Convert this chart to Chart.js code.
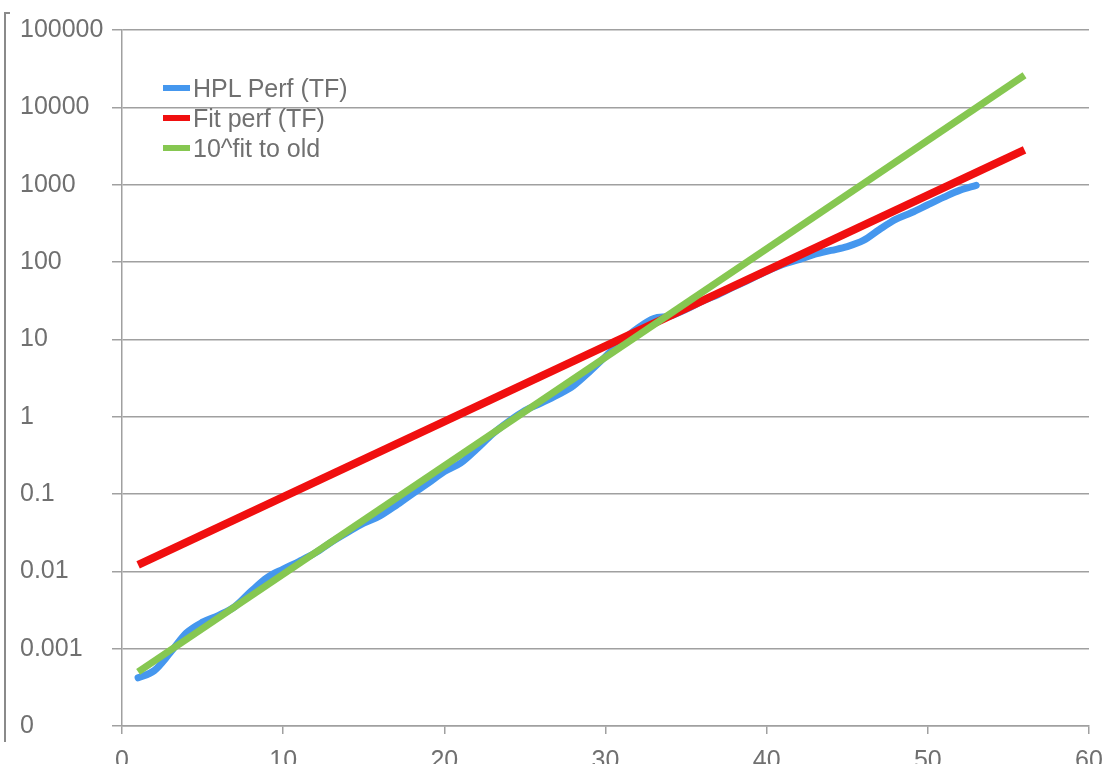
<!DOCTYPE html>
<html>
<head>
<meta charset="utf-8">
<title>HPL performance</title>
<script src="https://cdn.jsdelivr.net/npm/chart.js@4.4.1/dist/chart.umd.min.js"></script>
<style>
  html, body { margin: 0; padding: 0; background: #fff; overflow: hidden; }
  #wrap { position: relative; width: 1102px; height: 764px; overflow: hidden; }
  #frame { position: absolute; left: 4px; top: 12px; width: 4px; height: 728px;
           border-left: 2px solid #8a8a8a; border-top: 2px solid #8a8a8a; }
  #legend { position: absolute; left: 163px; top: 73px; font-family: "Liberation Sans", Arial, sans-serif;
            font-size: 25px; color: #707070; }
  #legend div { height: 30px; line-height: 30px; white-space: nowrap; }
  #legend span.sw { display: inline-block; width: 27px; height: 6px; vertical-align: middle;
                    margin-right: 3px; position: relative; top: -2px; }
</style>
</head>
<body>
<div id="wrap">
  <canvas id="chart" width="1102" height="800"></canvas>
  <div id="frame"></div>
  <div id="legend"></div>
</div>
<script>
let hplYears = [1, 2, 3, 4, 5, 6, 7, 8, 9, 10, 11, 12, 13, 14, 15, 16, 17, 18, 19, 20,
                21, 22, 23, 24, 25, 26, 27, 28, 29, 30, 31, 32, 33, 34, 35, 36, 37, 38, 39, 40,
                41, 42, 43, 44, 45, 46, 47, 48, 49, 50, 51, 52, 53];
let hplPerf  = [0.00042, 0.00052, 0.00089, 0.0016, 0.0022, 0.0027, 0.0035, 0.0055, 0.0083, 0.0107,
                0.0135, 0.0174, 0.024, 0.032, 0.042, 0.052, 0.071, 0.10, 0.138, 0.195,
                0.25, 0.38, 0.60, 0.87, 1.2, 1.5, 1.9, 2.5, 3.8, 6.0,
                9.5, 14, 18.6, 20, 24.5, 31, 38, 48, 60, 76,
                93, 107, 126, 141, 158, 190, 263, 355, 436, 550,
                690, 850, 980];

// the two fits are straight on the log axis, so only their end points
let fitYears   = [1, 56];
let fitPerf    = [0.0121, 2810];
let oldFitPerf = [0.0005, 26000];

let yTickValues = [0.0001, 0.001, 0.01, 0.1, 1, 10, 100, 1000, 10000, 100000];
let yTickLabels = ["0", "0.001", "0.01", "0.1", "1", "10", "100", "1000", "10000", "100000"];

let seriesNames  = ["HPL Perf (TF)", "Fit perf (TF)", "10^fit to old"];
let seriesColors = ["#4597ee", "#f00f0f", "#86c751"];

const gridColor = "#a0a0a0";
const textColor = "#707070";
const font = { family: "'Liberation Sans', Arial, sans-serif", size: 25 };

function toPoints(xs, ys)
{
    let pts = [];
    for(let i = 0; i < xs.length; i++)
    {
        pts.push({ x: xs[i], y: ys[i] });
    }
    return pts;
}

let datasets = [
    {
        label: seriesNames[0],
        data: toPoints(hplYears, hplPerf),
        borderColor: seriesColors[0],
        borderWidth: 7,
        borderCapStyle: "round",
        cubicInterpolationMode: "monotone",
        pointRadius: 0,
        order: 3
    },
    {
        label: seriesNames[1],
        data: toPoints(fitYears, fitPerf),
        borderColor: seriesColors[1],
        borderWidth: 8,
        pointRadius: 0,
        order: 2
    },
    {
        label: seriesNames[2],
        data: toPoints(fitYears, oldFitPerf),
        borderColor: seriesColors[2],
        borderWidth: 7,
        pointRadius: 0,
        order: 1
    }
];

let myChart = new Chart(document.getElementById("chart"), {
    type: "line",
    data: { datasets: datasets },
    options: {
        responsive: false,
        animation: false,
        layout: { padding: { left: 20, top: 30, right: 0, bottom: 0 } },
        plugins: {
            legend: { display: false },
            tooltip: { enabled: false }
        },
        scales: {
            x: {
                type: "linear",
                min: 0,
                max: 60,
                afterFit: (scale) => { scale.height = 74; scale.paddingRight = 13; },
                ticks: { stepSize: 10, color: textColor, font: font, padding: 12, maxRotation: 0 },
                grid: { drawOnChartArea: false, tickLength: 8, color: gridColor, lineWidth: 1.5 },
                border: { color: gridColor, width: 1.5 }
            },
            y: {
                type: "logarithmic",
                min: 0.0001,
                max: 100000,
                afterFit: (scale) => { scale.width = 102; },
                afterBuildTicks: (scale) => {
                    scale.ticks = yTickValues.map((v) => ({ value: v }));
                },
                ticks: {
                    color: textColor,
                    font: font,
                    crossAlign: "far",
                    callback: (value, i) => yTickLabels[i]
                },
                grid: { tickLength: 10, color: gridColor, lineWidth: 1.5 },
                border: { color: gridColor, width: 1.5 }
            }
        }
    }
});

// html legend, placed inside the plot like the original
let $legend = document.getElementById("legend");
for(let i = 0; i < seriesNames.length; i++)
{
    let row = document.createElement("div");
    row.innerHTML = '<span class="sw" style="background:' + seriesColors[i] + '"></span>' + seriesNames[i];
    $legend.appendChild(row);
}
</script>
</body>
</html>
